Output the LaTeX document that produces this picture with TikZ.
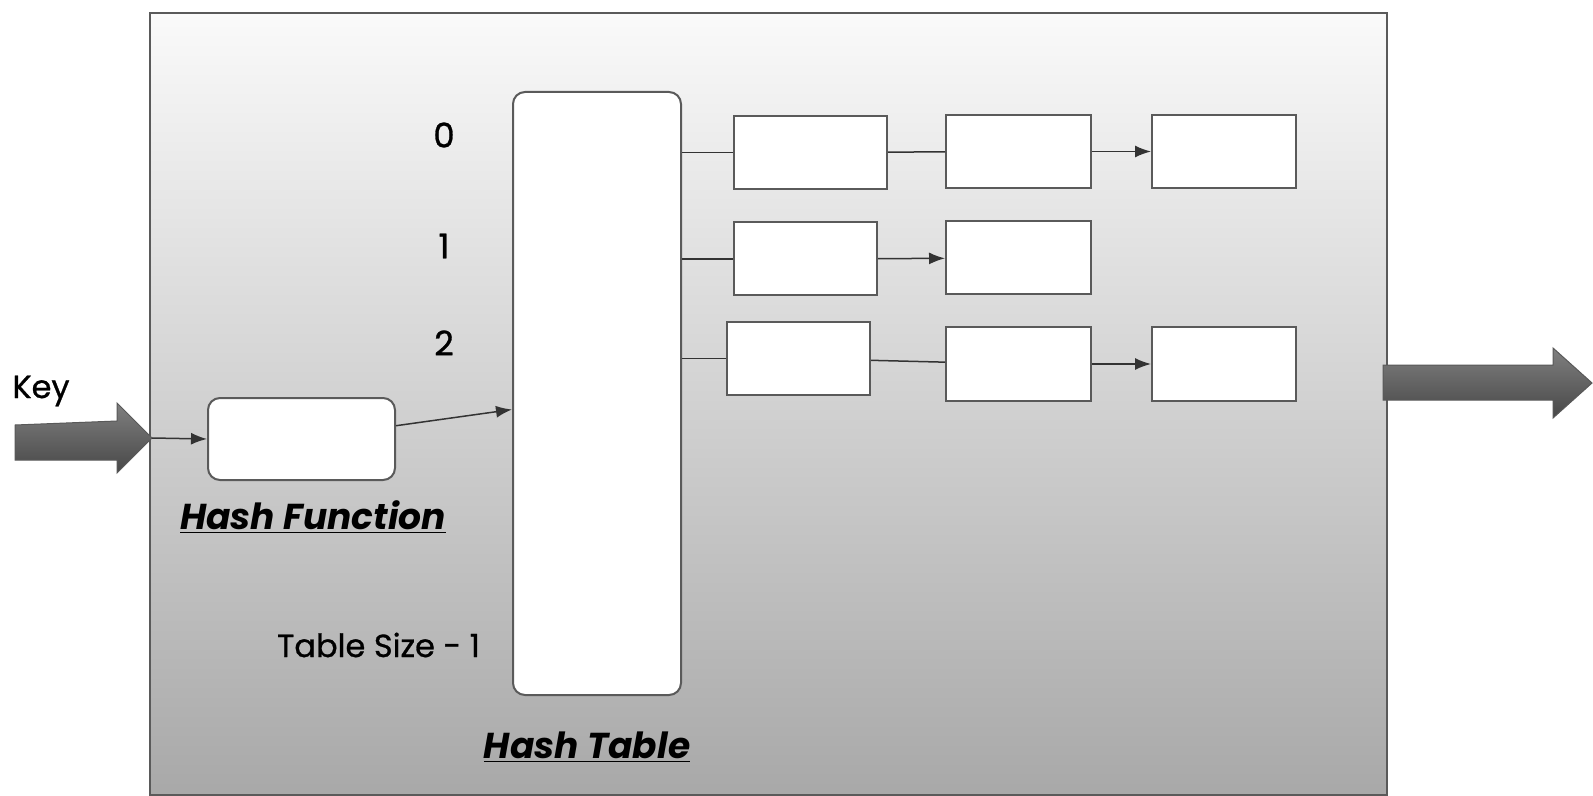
\documentclass[tikz,border=0pt]{standalone}
\usepackage{fontspec}
\setmainfont{Poppins}
\newfontfamily\labelfont{Poppins}[FakeBold=0.9]
\usetikzlibrary{arrows.meta}

\definecolor{edgegray}{HTML}{5A5A5A}

\begin{document}
\begin{tikzpicture}[
x=0.5pt, y=-0.5pt,
cell/.style={
  draw=edgegray,
  fill=white,
  line width=1pt,
  inner sep=0pt,
  minimum height=36.5pt
  },
rcell/.style={cell, rounded corners=6pt},
link/.style={draw=black!80, line width=0.75pt},
next/.style={link, -{Latex[length=8pt,width=6pt]}},
bigarrow/.style={draw=black!65, line width=0.5pt, top color=black!50, middle color=black!58, bottom color=black!72},
idx/.style={font=\labelfont\fontsize{17}{17}\selectfont},
caption/.style={font=\fontsize{18}{18}\selectfont\bfseries\itshape}
]
\useasboundingbox (0,0) rectangle (1593,796);

% container with the grey fade
\draw[draw=edgegray, line width=0.7pt, top color=white!98!black, bottom color=black!34]
  (150,13) rectangle (1387,795);

% key goes in, result goes out
\draw[bigarrow] (15,425) -- (117,421) -- (117,403) -- (152,438) -- (117,473) -- (117,460) -- (15,460) -- cycle;
\coordinate (keytip) at (152,438);
\draw[bigarrow] (1383,365) -- (1553,365) -- (1553,348) -- (1592,383) -- (1553,418) -- (1553,400) -- (1383,400) -- cycle;

\node[font=\labelfont\fontsize{16}{16}\selectfont] (key) at (41,391) {Key};

\node[rcell, minimum width=93.5pt, minimum height=41pt] (hf) at (301.5,439) {};
\node[rcell, minimum width=84pt, minimum height=301.5pt] (tab) at (597,393.5) {};

\node[caption] (hfcap) at (313,517) {\underline{Hash Function}};
\node[caption] (tabcap) at (587,747) {\underline{Hash Table}};

\foreach \Row/\Y in {0/135,1/246,2/343}
  \node[idx] (i\Row) at (444,\Y) {\Row};
\node[idx, font=\labelfont\fontsize{16}{16}\selectfont, anchor=east] (ilast) at (487,645) {Table Size - 1};

% chained entries
\foreach \n/\x/\y/\w in {a/810.5/152.5/153, b/1018.5/151.5/145, c/1224/151.5/144,
                         d/805.5/259/143, e/1018.5/258/145,
                         f/798.5/358.5/143, g/1018.5/364/145, h/1224/364/144}
  \node[cell, minimum width=\w*0.5pt] (\n) at (\x,\y) {};

\draw[next] (keytip) -- (hf.west);
\draw[next] (hf.8) -- ([yshift=-8pt]tab.west);

\path
(tab.east |- a.west) edge[link] (a.west)
(a) edge[link] (b)
(b) edge[next] (c)
(tab.east |- d.west) edge[link] (d.west)
(d) edge[next] (e)
(tab.east |- f.west) edge[link] (f.west)
(f) edge[link] (g)
(g) edge[next] (h);
\end{tikzpicture}
\end{document}
